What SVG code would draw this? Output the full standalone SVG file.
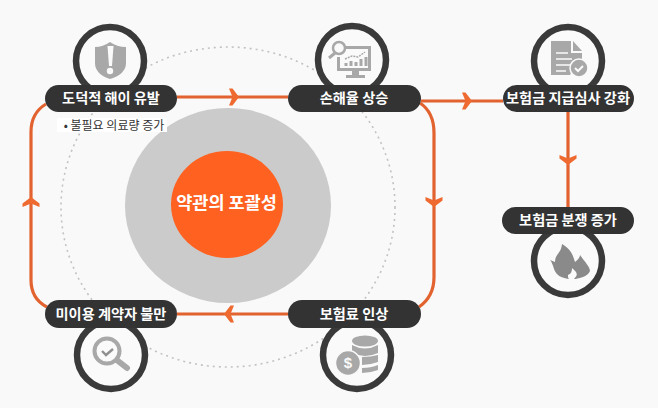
<svg xmlns="http://www.w3.org/2000/svg" width="658" height="408" viewBox="0 0 658 408">
<style>
.ln{fill:none;stroke:#e2632f;stroke-width:3.2}
.ah{fill:#ee6a30}
.pill{fill:#333}
.ring{fill:#fafafa;stroke:#3a3a3a;stroke-width:6.5}
.lb{font:700 14.2px "Noto Sans CJK KR","Noto Sans",sans-serif;fill:#fff;text-anchor:middle}
.ic{fill:#a8a8a8}
</style>
<defs><path id="chev" d="M-5-8.500h3.500l6.500 8.500-6.500 8.500h-3.500l3.500-8.500z"/></defs>
<rect width="658" height="408" fill="#f9f9f9"/>
<g id="core">
<ellipse cx="228" cy="207" rx="167" ry="160" fill="none" stroke="#c2c2c2" stroke-width="1.6" stroke-dasharray="2 4"/>
<ellipse cx="228" cy="205.500" rx="103" ry="97.500" fill="#cbcbcb"/>
<ellipse cx="227" cy="204.500" rx="56" ry="53.500" fill="#ff6121"/>
<text x="226.500" y="209" font-family="'Noto Sans CJK KR',sans-serif" font-size="17.500" font-weight="700" fill="#fff" text-anchor="middle">약관의 포괄성</text>
</g>
<g id="connectors">
<path class="ln" d="M177 97H288M421 101H503M568 112V207"/>
<path class="ln" d="M46 104C36 110 31 120 31 132V280C31 294 37 302 47 307M177 314H288M420 103C429 109 434 120 434 133V277C434 290 429 300 419 307"/>
<use class="ah" href="#chev" transform="translate(234 97)"/>
<use class="ah" href="#chev" transform="translate(467 101)"/>
<use class="ah" href="#chev" transform="translate(568 160) rotate(90)"/>
<use class="ah" href="#chev" transform="translate(434 202) rotate(90)"/>
<use class="ah" href="#chev" transform="translate(229 314) rotate(180)"/>
<use class="ah" href="#chev" transform="translate(31 202) rotate(-90)"/>
</g>
<g id="n1">
<circle class="ring" cx="110" cy="61" r="34"/>
<path class="ic" d="M95 47q8 0 15-5q7 5 16 5v16q0 11-16 16q-15-5-15-16z"/>
<path d="M107.500 46h6l-1.500 20h-3z" fill="#fafafa"/><circle cx="110" cy="71" r="3.200" fill="#fafafa"/>
<rect class="pill" x="45" y="85" width="132" height="27" rx="13.500"/>
<text class="lb" x="111" y="103">도덕적 해이 유발</text>
<rect x="57" y="118" width="110" height="14" fill="#fff"/>
<text x="114" y="130" font-family="'Noto Sans CJK KR',sans-serif" font-size="12" fill="#333" text-anchor="middle">• 불필요 의료량 증가</text>
</g>
<g id="n2">
<circle class="ring" cx="352" cy="60" r="34"/>
<path class="ic" fill-rule="evenodd" d="M345 46h26v25h-12v4h6v3h-19v-3h6v-4h-15v-14h3v11h28v-19h-23z"/>
<circle cx="339" cy="48" r="6" fill="none" stroke="#a8a8a8" stroke-width="2.500"/><path d="M335 53l-6 5" stroke="#a8a8a8" stroke-width="3"/>
<path d="M345 59l7-3 6 1 7-5" fill="none" stroke="#a8a8a8" stroke-width="1.500" stroke-dasharray="2 1"/>
<path d="M346 66v-3M351 66v-5M356 66v-4M361 66v-7M366 66v-9" stroke="#a8a8a8" stroke-width="3"/>
<rect class="pill" x="288" y="85" width="133" height="27" rx="13.500"/>
<text class="lb" x="354" y="103">손해율 상승</text>
</g>
<g id="n3">
<circle class="ring" cx="568" cy="61" r="34"/>
<path class="ic" d="M551 41h20v12h11v10h-6l-6 12h-19zM573 41l9 10h-9z"/>
<path d="M556 53h12M556 59h16M556 65h14M556 71h10" stroke="#fafafa" stroke-width="1.600"/>
<circle cx="579" cy="68" r="9" fill="#a8a8a8" stroke="#fafafa" stroke-width="1.500"/>
<path d="M575 68l3 3 5-5" fill="none" stroke="#fafafa" stroke-width="2"/>
<rect class="pill" x="503" y="85" width="131" height="27" rx="13.500"/>
<text class="lb" x="568" y="103">보험금 지급심사 강화</text>
</g>
<g id="n4">
<circle class="ring" cx="568" cy="261" r="34"/>
<path d="M562 244c10 6 11 12 13 18 3-2 5-5 5-7 5 7 10 12 10 16-2 6-13 8-16 8 4-4 4-6-2-11 0 5-2 6-4 7 0 2 0 3 1 4-8-1-13-4-15-10-1-3-2-7-4-9l5 2c0-8 6-8 7-18z" fill="#8a8a8a"/>
<rect class="pill" x="502" y="207" width="132" height="27" rx="13.500"/>
<text class="lb" x="568" y="225">보험금 분쟁 증가</text>
</g>
<g id="n5">
<circle class="ring" cx="111" cy="355" r="34"/>
<circle cx="107" cy="351" r="12.500" fill="#fafafa" stroke="#a8a8a8" stroke-width="4"/>
<path d="M102 351l4 4 7-6" fill="none" stroke="#8f8f8f" stroke-width="2.400"/>
<path d="M118 361l9 7" stroke="#a8a8a8" stroke-width="6" stroke-linecap="round"/>
<rect class="pill" x="45" y="300" width="132" height="28" rx="14"/>
<text class="lb" x="111" y="319">미이용 계약자 불만</text>
</g>
<g id="n6">
<circle class="ring" cx="357" cy="355" r="34"/>
<ellipse class="ic" cx="365" cy="341" rx="13" ry="5.500"/>
<path class="ic" d="M352 345q13 7 26 0v8q-13 6-26 0zM362 357q9 0 16-2v7q-8 3-16 3zM362 368q9 0 16-3v5q-8 3-16 3z"/>
<circle cx="348" cy="363" r="12.500" fill="#a8a8a8" stroke="#fafafa" stroke-width="1.500"/>
<text x="348" y="368" font-family="'Liberation Sans',sans-serif" font-size="15" font-weight="700" fill="#fafafa" text-anchor="middle">$</text>
<rect class="pill" x="288" y="300" width="133" height="28" rx="14"/>
<text class="lb" x="354" y="319">보험료 인상</text>
</g>
</svg>
